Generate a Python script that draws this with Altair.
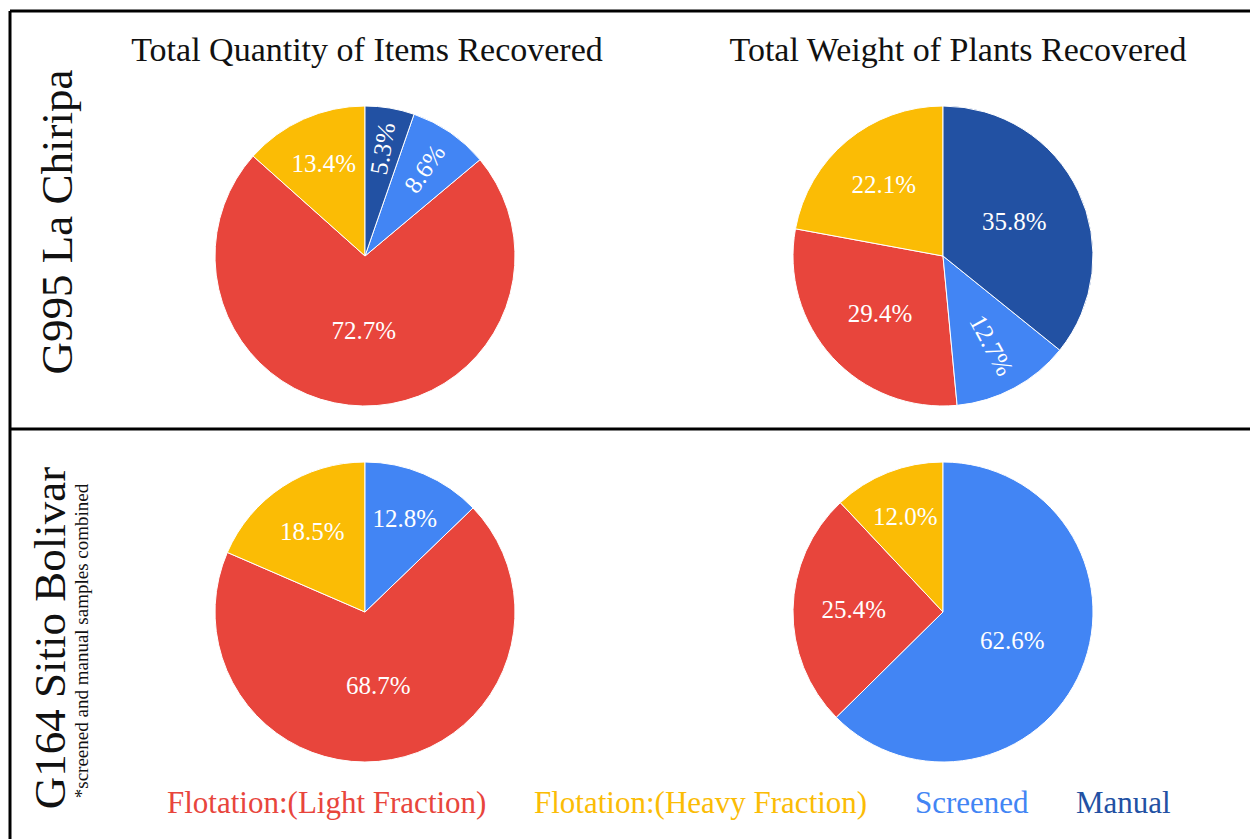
import altair as alt
import pandas as pd

# ---------------- data ----------------
categories = ["Flotation:(Light Fraction)", "Flotation:(Heavy Fraction)", "Screened", "Manual"]
colors = ["#E8453C", "#FBBC05", "#4285F4", "#2251A3"]
# clockwise order from 12 o'clock
clock_order = {"Manual": 0, "Screened": 1, "Flotation:(Light Fraction)": 2, "Flotation:(Heavy Fraction)": 3}

sites = ["G995 La Chiripa", "G164 Sitio Bolivar"]
measures = ["Total Quantity of Items Recovered", "Total Weight of Plants Recovered"]

quantity_chiripa = [72.7, 13.4, 8.6, 5.3]
weight_chiripa = [29.4, 22.1, 12.7, 35.8]
quantity_bolivar = [68.7, 18.5, 12.8, 0.0]
weight_bolivar = [25.4, 12.0, 62.6, 0.0]

subtitle_bolivar = "*screened and manual samples combined"

series = [
    (sites[0], measures[0], quantity_chiripa),
    (sites[0], measures[1], weight_chiripa),
    (sites[1], measures[0], quantity_bolivar),
    (sites[1], measures[1], weight_bolivar),
]
rows = []
for site, measure, vals in series:
    for cat, v in zip(categories, vals):
        if v > 0:
            rows.append({"site": site, "measure": measure, "category": cat,
                         "pct": v, "order": clock_order[cat]})
df = pd.DataFrame(rows)

SERIF = "Liberation Serif"
R = 150

x_scale = alt.Scale(type="point", domain=measures, range=[355, 933], padding=0)
y_scale = alt.Scale(type="point", domain=sites, range=[245, 601], padding=0)
title_x_scale = alt.Scale(type="point", domain=measures, range=[357, 948], padding=0)
color_scale = alt.Scale(domain=categories, range=colors)

base = alt.Chart(df).transform_joinaggregate(
    total="sum(pct)", groupby=["site", "measure"]
).transform_window(
    cum="sum(pct)", sort=[alt.SortField("order")], groupby=["site", "measure"], frame=[None, 0]
).transform_calculate(
    t1="2*PI*datum.cum/datum.total",
    t0="2*PI*(datum.cum-datum.pct)/datum.total",
).transform_calculate(
    tm="(datum.t0+datum.t1)/2",
    lr=f"{R}*(0.76 - 0.26*min(datum.pct,40)/40)",
    label="format(datum.pct, '.1f') + '%'",
).transform_calculate(
    rot="(datum.pct < 12.75 && datum.tm < PI) ? (datum.tm*180/PI - 90 + 360) % 360 : 0"
)

pies = base.mark_arc(outerRadius=R, stroke="white", strokeWidth=1).encode(
    x=alt.X("measure:N", scale=x_scale, axis=None),
    y=alt.Y("site:N", scale=y_scale, axis=None),
    theta=alt.Theta("t0:Q", scale=None, stack=False),
    theta2="t1:Q",
    color=alt.Color(
        "category:N", scale=color_scale,
        legend=alt.Legend(
            orient="none", legendX=126, legendY=777, direction="horizontal",
            title=None, symbolSize=0, symbolStrokeWidth=0, symbolOpacity=0,
            labelOffset=0, columnPadding=16, labelFont=SERIF, labelFontSize=31,
            labelLimit=600, labelColor={"expr": "scale('color', datum.value)"},
        ),
    ),
)

labels = base.mark_text(font=SERIF, fontSize=25, color="white", align="center", baseline="middle").encode(
    x=alt.X("measure:N", scale=x_scale, axis=None),
    y=alt.Y("site:N", scale=y_scale, axis=None),
    theta=alt.Theta("tm:Q", scale=None, stack=False),
    radius=alt.Radius("lr:Q", scale=None),
    angle=alt.Angle("rot:Q", scale=None),
    text="label:N",
)

titles = alt.Chart(pd.DataFrame({"measure": measures})).mark_text(
    font=SERIF, fontSize=34, color="#111111", baseline="middle", align="center"
).encode(
    x=alt.X("measure:N", scale=title_x_scale, axis=None),
    y=alt.value(40),
    text="measure:N",
)

row_top = alt.Chart(pd.DataFrame({"t": [sites[0]]})).mark_text(
    font=SERIF, fontSize=45, color="#111111", angle=270, align="center", baseline="middle"
).encode(x=alt.value(48), y=alt.value(211), text="t:N")

row_bottom = alt.Chart(pd.DataFrame({"t": [sites[1]]})).mark_text(
    font=SERIF, fontSize=45, color="#111111", angle=270, align="center", baseline="middle"
).encode(x=alt.value(41), y=alt.value(627), text="t:N")

row_sub = alt.Chart(pd.DataFrame({"t": [subtitle_bolivar]})).mark_text(
    font=SERIF, fontSize=19, color="#111111", angle=270, align="center", baseline="middle"
).encode(x=alt.value(72), y=alt.value(630), text="t:N")

frame_top = alt.Chart(pd.DataFrame({"a": [0]})).mark_rule(color="black", strokeWidth=3).encode(
    x=alt.value(0), x2=alt.value(1240), y=alt.value(0)
)
frame_left = alt.Chart(pd.DataFrame({"a": [0]})).mark_rule(color="black", strokeWidth=3).encode(
    x=alt.value(0), y=alt.value(0), y2=alt.value(828)
)
frame_mid = alt.Chart(pd.DataFrame({"a": [0]})).mark_rule(color="black", strokeWidth=3).encode(
    x=alt.value(0), x2=alt.value(1240), y=alt.value(418)
)

chart = alt.layer(
    pies, labels, titles, row_top, row_bottom, row_sub, frame_top, frame_left, frame_mid
).resolve_scale(
    x="independent"
).properties(
    width=1240, height=828, autosize="none",
    padding={"left": 10, "top": 11, "right": 0, "bottom": 0},
    background="white",
).configure_view(stroke=None)

chart.save("out.html", embed_options={"renderer": "svg", "actions": False})
